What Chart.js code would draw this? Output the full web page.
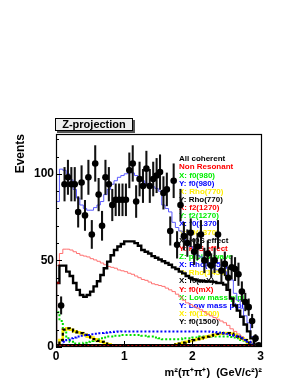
<!DOCTYPE html>
<html>
<head>
<meta charset="utf-8">
<script src="https://cdn.jsdelivr.net/npm/chart.js@4.4.0/dist/chart.umd.min.js"></script>
<style>
  html, body { margin: 0; padding: 0; background: #fff; }
  canvas { display: block; }
</style>
</head>
<body>
<canvas id="zproj" width="300" height="388"></canvas>
<script>
// bin centres, m^2(pi+pi+) in (GeV/c^2)^2, bin width 0.05
const binCenters = [0.025,0.075,0.125,0.175,0.225,0.275,0.325,0.375,0.425,0.475,
  0.525,0.575,0.625,0.675,0.725,0.775,0.825,0.875,0.925,0.975,
  1.025,1.075,1.125,1.175,1.225,1.275,1.325,1.375,1.425,1.475,
  1.525,1.575,1.625,1.675,1.725,1.775,1.825,1.875,1.925,1.975,
  2.025,2.075,2.125,2.175,2.225,2.275,2.325,2.375,2.425,2.475,
  2.525,2.575,2.625,2.675,2.725,2.775,2.825,2.875,2.925,2.975];
const halfBin = 0.025;
const xTickValues = [0, 1, 2, 3];
const yTickValues = [0, 50, 100];

// data points + errors
const dataEvents = [null,24,94,98,94,94,78,95,76,98,
  65,106,88,70,98,94,82,85,85,85,
  85,102,106,84,97,93,103,93,97,99,
  101,89,91,67,96,59,82,64,60,66,
  55,58,65,50,54,47,50,65,44,48,
  40,46,45,42,32,26,23,15,5,1];
const dataErrors = [0,5,9.7,9.9,9.7,9.7,8.8,9.7,8.7,9.9,
  8.1,10.3,9.4,8.4,9.9,9.7,9.1,9.2,9.2,9.2,
  9.2,10.1,10.3,9.2,9.8,9.6,10.1,9.6,9.8,9.9,
  10,9.4,9.5,8.2,9.8,7.7,9.1,8,7.7,8.1,
  7.4,7.6,8.1,7.1,7.3,6.9,7.1,8.1,6.6,6.9,
  6.3,6.8,6.7,6.5,5.7,5.1,4.8,3.9,2.2,1];

// fit components (histograms)
const totalFit = [0,84,102.7,102,100,96.5,91,86,82,80,
  79,79,80.5,82,84,88,91,94,96,98,
  99,100,101,100.5,99,97.5,96,94.5,93.5,92.5,
  91.5,90,82,80,78,72,69,67,63,61,
  58,55,53,52,49,47,46,45,44.5,44,
  43.5,41,38.7,31,27,22.4,18,14,6,1.5];
const allCoherent = [0,37,47,47,43.5,41,37,33,30,29,
  30,32,35,38,41.6,45.5,49.3,53,56,58,
  59.5,61,61,61,60,58.5,56,55,54,52.5,
  51.5,50.5,49.5,48.5,47.5,46,45,43.5,42.5,41,
  40,39,38.5,38,38,37.8,37.8,37.5,37,37,
  36,33,28,24,21,17.5,13,9,5,1.5];
const nonResonant = [0,47,54,56.5,56.5,56,55,54,53,52.5,
  52,51,50.3,49.5,48.5,47.5,46.5,46,45.5,44.5,
  44,43.5,42.6,42,41,40,39,38.5,37.5,36.5,
  36,35.5,35,34,33,32,30.5,29,27,25.5,
  24.5,23.5,22.5,21.5,20.5,19,18,17,16,15,
  14,12.5,10.5,9,7.5,6,4.5,3,1.5,0.5];
const threshold = [0,37,null,null,null,null,null,null,null,null,
  null,null,null,null,null,null,null,null,null,null,
  null,null,null,null,null,null,null,null,null,null,
  null,null,null,null,null,null,null,null,null,null,
  null,null,null,null,null,null,null,null,null,null,
  null,null,null,null,null,null,null,null,null,null];
const pipiSwave = [0,20,15,9,5,3,2,2,2,2.5,
  3,3.5,4,4.5,5,5.5,6,6,6.5,6.5,
  7,7,7,7,7,7,6.5,6.5,6,6,
  5.5,5,4.5,4.5,4.5,4.5,4.5,4.5,5,5,
  5,5.5,5.5,6,6,6,6,6,6,6,
  6,6,5.8,5.5,5,4,3,2,1,0.3];
const rho770 = [0,0,4,10,10.8,10,9,8.5,8,7,
  6,5.5,4.5,3.5,3,2,1.5,1,0.8,0.5,
  0.3,0.2,0.2,0.2,0.2,0.2,0.2,0.2,0.2,0.2,
  0.2,0.2,0.3,0.5,0.8,1,1.5,2,2.5,3,
  3.5,4,4.5,5,5.5,6,6.5,7,7.5,7.8,
  8,8,7.8,7,6,5,4,2.5,1,0.2];
const lowMass = [0,0,1,3,4,5,5.5,6,6.5,6.8,
  7,7.3,7.6,7.9,8.1,8.3,8.5,8.7,8.8,8.9,
  9,9,9,9,9,9,9,9,9,9,
  9,9,9,9,9,9,9,9,9,9,
  9,9,9,9,9,9,8.8,8.6,8.4,8.2,
  8,7.6,7,6.5,6,5,4,3,1.5,0.5];
const kaonEffect = [0,1.2,1.2,1.2,1.2,1.2,1.2,1.2,1.2,1.2,
  1.2,1.2,1.2,1.2,1.2,1.2,1.2,1.2,1.2,1.2,
  1.2,1.2,1.2,1.2,1.2,1.2,1.2,1.2,1.2,1.2,
  1.2,1.2,1.2,1.2,1.2,1.2,1.2,1.2,1.2,1.2,
  1.2,1.2,1.2,1.2,1.2,1.2,1.2,1.2,1.2,1.2,
  1.2,1.2,1.2,1.2,1.2,1.2,1.2,1.2,1.0,0.3];
const f2Small = [0,0.4,0.4,0.4,0.4,0.4,0.4,0.4,0.4,0.4,
  0.4,0.4,0.4,0.4,0.4,0.4,0.4,0.4,0.4,0.4,
  0.4,0.4,0.4,0.4,0.4,0.4,0.4,0.4,0.4,0.4,
  0.4,0.4,0.4,0.4,0.4,0.4,0.4,0.4,0.4,0.4,
  0.4,0.4,0.4,0.4,0.4,0.4,0.4,0.4,0.4,0.4,
  0.4,0.4,0.4,0.4,0.4,0.4,0.4,0.4,0.3,0.1];

const legendLabels = ['All coherent','Non Resonant','X: f0(980)','Y: f0(980)','X: Rho(770)','Y: Rho(770)',
  'X: f2(1270)','Y: f2(1270)','X: f0(1370)','Y: f0(1370)','X: K0S effect','Y: K0S effect',
  'Z: pipi S-wave','X: Rho(1450)','Y: Rho(1450)','X: f0(mX)','Y: f0(mX)',
  'X: Low mass pipi','Y: Low mass pipi','X: f0(1500)','Y: f0(1500)'];
const legendColors = ['#000','#ff0000','#00ee00','#0000ff','#ffee00','#000',
  '#ff0000','#00ee00','#0000ff','#ffee00','#000','#ff0000',
  '#00ee00','#0000ff','#ffee00','#000','#ff0000',
  '#00ee00','#0000ff','#ffee00','#000'];

// histogram outline: one point per lower bin edge, stepped 'after'
function histPoints(values) {
  const pts = [{x: 0, y: 0}];
  values.forEach((v, i) => {
    pts.push({x: binCenters[i] - halfBin, y: v});
  });
  const last = values[values.length - 1];
  if (last !== null) {
    pts.push({x: binCenters[binCenters.length - 1] + halfBin, y: last});
    pts.push({x: binCenters[binCenters.length - 1] + halfBin, y: 0});
  }
  return pts;
}

function histSet(values, color, width, dash, order) {
  return {
    type: 'line', data: histPoints(values), stepped: 'after',
    borderColor: color, borderWidth: width, borderDash: dash || [],
    pointRadius: 0, fill: false, spanGaps: false, order: order
  };
}

const points = [];
const bars = [];
binCenters.forEach((c, i) => {
  if (dataEvents[i] === null) return;
  points.push({x: c, y: dataEvents[i]});
  bars.push({x: c, y: [dataEvents[i] - dataErrors[i], dataEvents[i] + dataErrors[i]]});
});

const rootDecor = {
  id: 'rootDecor',
  beforeDatasetsDraw(chart) {
    const ctx = chart.ctx;
    ctx.save();
    ctx.font = 'bold 8px "Liberation Sans", Arial, sans-serif';
    ctx.textBaseline = 'middle';
    ctx.textAlign = 'left';
    legendLabels.forEach((t, i) => {
      ctx.fillStyle = legendColors[i];
      ctx.fillText(t, 179, 159 + i * 8.15);
    });
    ctx.restore();
  },
  afterDatasetsDraw(chart) {
    const {ctx, chartArea: a, scales: {x, y}} = chart;
    ctx.save();
    ctx.strokeStyle = '#000';
    ctx.lineWidth = 1;
    ctx.beginPath();
    for (let v = 0; v <= 120; v += 10) {
      const py = Math.round(y.getPixelForValue(v)) + 0.5;
      const len = v % 50 === 0 ? 6 : 3;
      ctx.moveTo(a.left, py); ctx.lineTo(a.left + len, py);
    }
    for (let k = 0; k <= 15; k++) {
      const px = Math.round(x.getPixelForValue(k * 0.2)) + 0.5;
      const len = k % 5 === 0 ? 6 : 3;
      ctx.moveTo(px, a.bottom); ctx.lineTo(px, a.bottom - len);
    }
    ctx.stroke();
    ctx.lineWidth = 1.2;
    ctx.strokeRect(a.left + 0.5, a.top + 0.5, a.right - a.left - 1, a.bottom - a.top - 1);
    ctx.restore();
  },
  afterDraw(chart) {
    const ctx = chart.ctx;
    ctx.save();
    ctx.fillStyle = '#555';
    ctx.fillRect(57, 120, 78, 13);
    ctx.fillStyle = '#eeeeee';
    ctx.fillRect(55, 118, 78, 13);
    ctx.strokeStyle = '#000';
    ctx.lineWidth = 1;
    ctx.strokeRect(55.5, 118.5, 77, 12);
    ctx.fillStyle = '#000';
    ctx.font = 'bold 11px "Liberation Sans", Arial, sans-serif';
    ctx.textAlign = 'center';
    ctx.textBaseline = 'middle';
    ctx.fillText('Z-projection', 94, 125);
    ctx.restore();
  }
};

const tickFont = {family: '"Liberation Sans", Arial, sans-serif', size: 12, weight: 'bold'};

new Chart(document.getElementById('zproj'), {
  type: 'line',
  data: {
    datasets: [
      {type: 'scatter', data: points, pointRadius: 3.3, pointBackgroundColor: '#000',
       pointBorderColor: '#000', pointBorderWidth: 0, showLine: false, order: 0},
      {type: 'bar', data: bars, backgroundColor: '#111', barThickness: 1.4, grouped: false, order: 1},
      histSet(threshold, '#8b0000', 2.2, null, 2),
      histSet(f2Small, '#ff0000', 2, [2, 2], 3),
      histSet(kaonEffect, '#000', 2, null, 4),
      histSet(lowMass, '#0000ff', 2, [2, 2], 5),
      histSet(rho770, '#000', 2.2, [3, 3], 6),
      histSet(rho770, '#ffee00', 2.6, null, 7),
      histSet(pipiSwave, '#00dd00', 2, [2, 2], 8),
      histSet(allCoherent, '#000', 2.4, null, 9),
      histSet(totalFit, '#5a5aff', 1, null, 10),
      histSet(nonResonant, '#ff7070', 1, null, 11)
    ]
  },
  options: {
    responsive: false,
    animation: false,
    devicePixelRatio: 1,
    layout: {padding: {left: 0, right: 38, top: 134, bottom: 0}},
    plugins: {legend: {display: false}, tooltip: {enabled: false}},
    scales: {
      x: {
        type: 'linear', min: 0, max: 3.02, offset: false,
        grid: {display: false, drawTicks: false, offset: false},
        border: {display: false},
        ticks: {padding: 2, color: '#000', font: tickFont, maxRotation: 0, autoSkip: false},
        afterBuildTicks: axis => { axis.ticks = xTickValues.map(v => ({value: v})); },
        afterFit: axis => { axis.height = 41; },
        title: {display: true, text: 'm²(π⁺π⁺)  (GeV/c²)²', align: 'end', color: '#000',
                font: {family: '"Liberation Sans", Arial, sans-serif', size: 11, weight: 'bold'},
                padding: {top: 0, bottom: 8}}
      },
      y: {
        type: 'linear', min: 0, max: 123,
        grid: {display: false, drawTicks: false},
        border: {display: false},
        ticks: {padding: 2, color: '#000', font: tickFont, autoSkip: false},
        afterBuildTicks: axis => { axis.ticks = yTickValues.map(v => ({value: v})); },
        afterFit: axis => { axis.width = 56; },
        title: {display: true, text: 'Events', align: 'end', color: '#000',
                font: {family: '"Liberation Sans", Arial, sans-serif', size: 12, weight: 'bold'},
                padding: {top: 13, bottom: 0}}
      }
    }
  },
  plugins: [rootDecor]
});
</script>
</body>
</html>
